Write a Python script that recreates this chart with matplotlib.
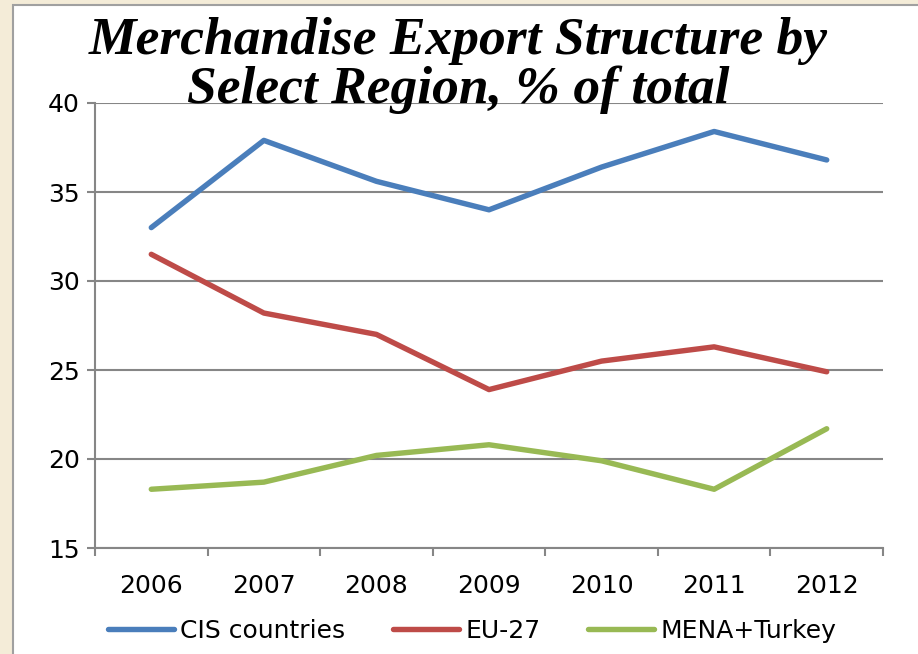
import numpy as np
import matplotlib
matplotlib.use('Agg')
import matplotlib.pyplot as plt
from matplotlib.patches import Rectangle
from matplotlib.ticker import FixedLocator

years = ['2006', '2007', '2008', '2009', '2010', '2011', '2012']
cis = [33.0, 37.9, 35.6, 34.0, 36.4, 38.4, 36.8]
eu27 = [31.5, 28.2, 27.0, 23.9, 25.5, 26.3, 24.9]
mena = [18.3, 18.7, 20.2, 20.8, 19.9, 18.3, 21.7]

series_names = ['CIS countries', 'EU-27', 'MENA+Turkey']
colors = ['#4A7EBB', '#BE4B48', '#98B954']
grid_col = '#868686'

fig = plt.figure(figsize=(9.18, 6.54), dpi=100)
fig.patch.set_facecolor('#F4ECD8')

# white slide panel with gray border
panel = Rectangle((13 / 918, -0.05), 1.0, 1 - 5 / 654 + 0.05, transform=fig.transFigure,
                  facecolor='white', edgecolor='#A0A0A0', linewidth=1.5, zorder=-1)
fig.patches.append(panel)

ax = fig.add_axes([95 / 918, 1 - 548 / 654, (883 - 95) / 918, (548 - 103) / 654])
ax.set_facecolor('none')

x = np.arange(len(years))
for vals, name, c in zip([cis, eu27, mena], series_names, colors):
    ax.plot(x, vals, color=c, lw=3.9, solid_capstyle='round', solid_joinstyle='round',
            label=name, zorder=3)

ax.set_xlim(-0.5, len(years) - 0.5)
ax.set_ylim(15, 40)
ax.set_yticks(np.arange(15, 41, 5))
ax.yaxis.grid(True, color=grid_col, lw=1.5)
ax.set_axisbelow(True)

ax.set_xticks(x)
ax.set_xticklabels(years)
ax.xaxis.set_minor_locator(FixedLocator(np.arange(-0.5, len(years), 1.0)))
ax.tick_params(axis='x', which='major', length=0, pad=19, labelsize=18)
ax.tick_params(axis='x', which='minor', length=6, width=1.5, color=grid_col, direction='out')
ax.tick_params(axis='y', length=6, width=1.5, color=grid_col, direction='out', pad=5, labelsize=18)

for s in ['top', 'right']:
    ax.spines[s].set_visible(False)
for s in ['left', 'bottom']:
    ax.spines[s].set_color(grid_col)
    ax.spines[s].set_linewidth(1.5)

fig.text(0.499, 1 - 17 / 654, 'Merchandise Export Structure by\nSelect Region, % of total',
         ha='center', va='top', fontsize=38.5, fontweight='bold', fontstyle='italic',
         family='Liberation Serif', linespacing=1.0, zorder=5)

fig.legend(loc='center', bbox_to_anchor=(0.514, 1 - 631 / 654), ncol=3, frameon=False,
           fontsize=18, handlelength=2.65, handletextpad=0.25, columnspacing=1.9)

plt.savefig('out.png', dpi=100, facecolor=fig.get_facecolor())
